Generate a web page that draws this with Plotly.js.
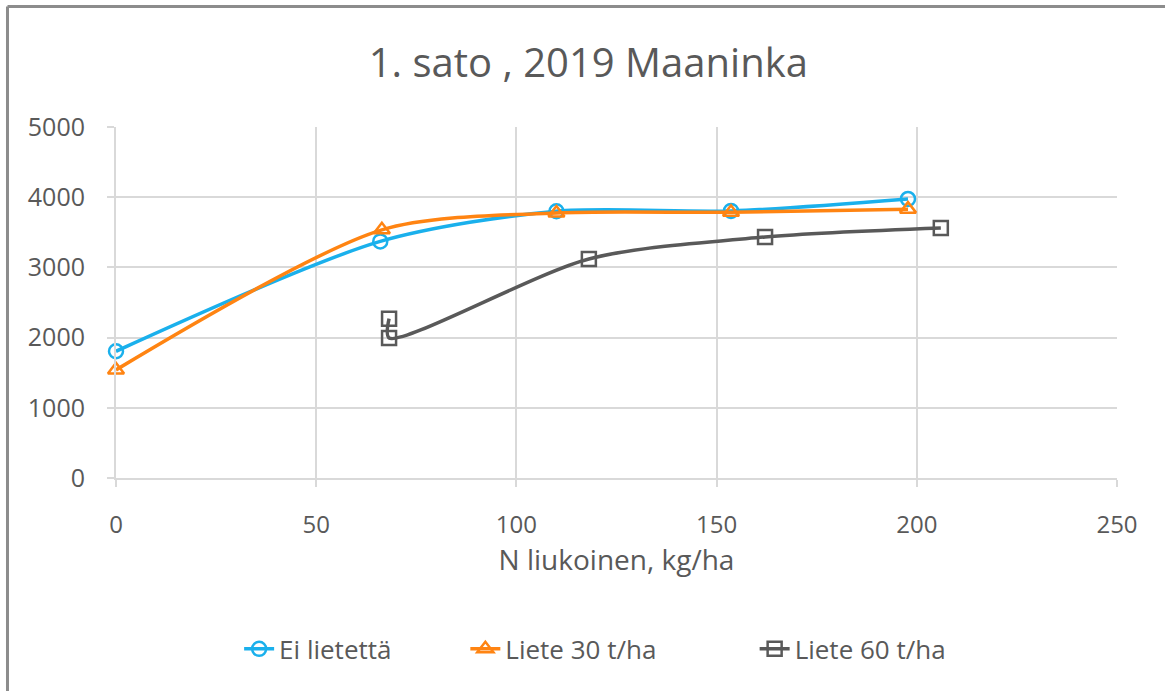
<!DOCTYPE html>
<html>
<head>
<meta charset="utf-8">
<script src="https://cdn.plot.ly/plotly-3.0.1.min.js"></script>
<style>html,body{margin:0;padding:0;background:#fff;}#chart{width:1165px;height:691px;}</style>
</head>
<body>
<div id="chart"></div>
<script>
const titleText = "1. sato , 2019 Maaninka";
const xTitle = "N liukoinen, kg/ha";
const seriesNames = ["Ei lietettä", "Liete 30 t/ha", "Liete 60 t/ha"];

const eiX = [0, 66, 110, 153.6, 197.8];
const eiY = [1805, 3370, 3800, 3805, 3975];

const l30X = [0, 66.4, 110, 153.6, 197.8];
const l30Y = [1540, 3535, 3775, 3785, 3830];

const l60X = [68.2, 68.2, 118.1, 162.1, 206];
const l60Y = [2270, 1995, 3120, 3433, 3561];

const colors = ["#1AB0EC", "#FF8412", "#595959"];
const symbols = ["circle-open", "triangle-up-open", "square-open"];
const xs = [eiX, l30X, l60X];
const ys = [eiY, l30Y, l60Y];
const legendIds = ["legend", "legend2", "legend3"];
const legendX = [0.123, 0.349, 0.638];

const font = "Open Sans, Liberation Sans, sans-serif";
const traces = seriesNames.map((n, i) => ({
  type: "scatter",
  mode: "lines+markers",
  name: n,
  x: xs[i],
  y: ys[i],
  legend: legendIds[i],
  line: {color: colors[i], width: 3.5, shape: "spline", smoothing: 0.8},
  marker: {symbol: symbols[i], size: 14, color: colors[i], line: {width: 2.5, color: colors[i]}},
  cliponaxis: false
}));

const legendBase = (x) => ({orientation: "h", x: x, xanchor: "left", y: -0.487, yanchor: "middle",
  font: {family: font, size: 26, color: "#595959"}, bgcolor: "rgba(0,0,0,0)"});

const layout = {
  width: 1165, height: 691,
  paper_bgcolor: "#ffffff", plot_bgcolor: "#ffffff",
  margin: {l: 116, r: 48, t: 127, b: 213},
  font: {family: font, color: "#595959", size: 22},
  title: {text: titleText, x: 0.505, xanchor: "center", y: 0.909, yanchor: "middle", yref: "container",
          font: {family: font, size: 40, color: "#595959"}},
  xaxis: {
    range: [0, 250], dtick: 50, tick0: 0,
    showgrid: true, gridcolor: "#D9D9D9", gridwidth: 2,
    zeroline: false, showline: true, linecolor: "#D9D9D9", linewidth: 2,
    ticks: "outside", ticklen: 7, tickwidth: 2, tickcolor: "#D9D9D9",
    ticklabelstandoff: 17,
    tickfont: {family: font, size: 24, color: "#595959"},
    title: {text: xTitle, standoff: 12, font: {family: font, size: 28, color: "#595959"}},
    fixedrange: true
  },
  yaxis: {
    range: [0, 5000], dtick: 1000, tick0: 0,
    showgrid: true, gridcolor: "#D9D9D9", gridwidth: 2,
    zeroline: false, showline: true, linecolor: "#D9D9D9", linewidth: 2,
    ticks: "outside", ticklen: 7, tickwidth: 2, tickcolor: "#D9D9D9",
    ticklabelstandoff: 17,
    tickfont: {family: font, size: 25, color: "#595959"},
    fixedrange: true
  },
  showlegend: true,
  legend: legendBase(legendX[0]),
  legend2: legendBase(legendX[1]),
  legend3: legendBase(legendX[2]),
  shapes: [
    {type: "line", xref: "paper", yref: "paper", x0: -0.1084, x1: 1.06, y0: 1.3433, y1: 1.3433,
     line: {color: "#8C8C8C", width: 3}},
    {type: "line", xref: "paper", yref: "paper", x0: -0.1084, x1: -0.1084, y0: -0.62, y1: 1.3433,
     line: {color: "#8C8C8C", width: 3}}
  ]
};

Plotly.newPlot("chart", traces, layout, {displayModeBar: false, staticPlot: true});
</script>
</body>
</html>
